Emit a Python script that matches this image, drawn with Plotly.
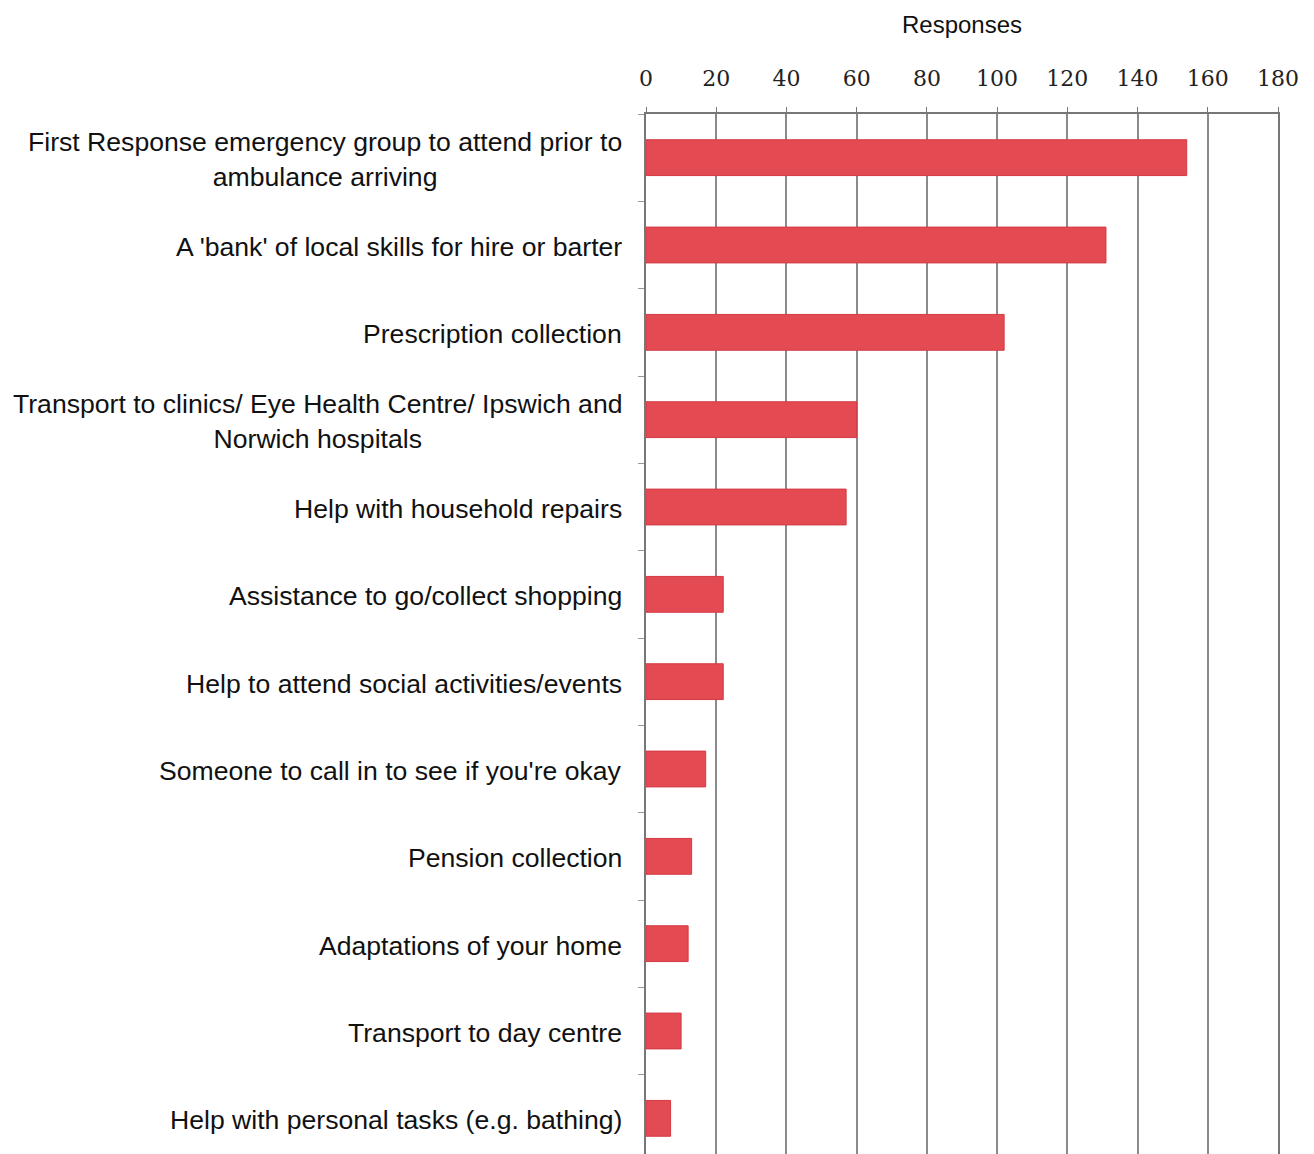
import plotly.graph_objects as go

categories = [
    "First Response emergency group to attend prior to<br>ambulance arriving",
    "A 'bank' of local skills for hire or barter",
    "Prescription collection",
    "Transport to clinics/ Eye Health Centre/ Ipswich and<br>Norwich hospitals",
    "Help with household repairs",
    "Assistance to go/collect shopping",
    "Help to attend social activities/events",
    "Someone to call in to see if you're okay",
    "Pension collection",
    "Adaptations of your home",
    "Transport to day centre",
    "Help with personal tasks (e.g. bathing)",
]
responses = [154, 131, 102, 60, 57, 22, 22, 17, 13, 12, 10, 7]
x_ticks = [0, 20, 40, 60, 80, 100, 120, 140, 160, 180]

fig = go.Figure(go.Bar(
    x=responses, y=categories, orientation="h", width=0.41,
    marker=dict(color="#e44a52", line=dict(color="#d23a44", width=1)),
))

# centred multi-line labels, right-aligned against the axis
for c in categories:
    fig.add_annotation(x=0, xref="paper", y=c, yref="y", text=c, showarrow=False,
                       xanchor="right", align="center", xshift=-22, yshift=-2,
                       font=dict(family="Liberation Sans, Arial", size=26.6, color="#111"))

fig.update_xaxes(side="top", range=[0, 180], tickvals=x_ticks, showgrid=True,
                 gridcolor="#8a8a8a", gridwidth=1.5, showline=True, linecolor="#777",
                 linewidth=1.5, ticks="outside", ticklen=5, tickcolor="#777",
                 ticklabelstandoff=12,
                 tickfont=dict(family="DejaVu Serif, Liberation Serif", size=22, color="#222"),
                 title=dict(text="Responses", standoff=26,
                            font=dict(family="Liberation Sans, Arial", size=24, color="#111")),
                 zeroline=False)
fig.update_yaxes(categoryorder="array", categoryarray=categories, autorange="reversed",
                 showticklabels=False, ticks="outside", tickson="boundaries", ticklen=6,
                 tickcolor="#999", showline=True, linecolor="#777", linewidth=1.5,
                 mirror=True, showgrid=False)
fig.update_layout(width=1314, height=1154, margin=dict(l=638, r=44, t=106, b=0),
                  plot_bgcolor="white", paper_bgcolor="white", showlegend=False,
                  bargap=0.59)
fig.write_html("out.html")
